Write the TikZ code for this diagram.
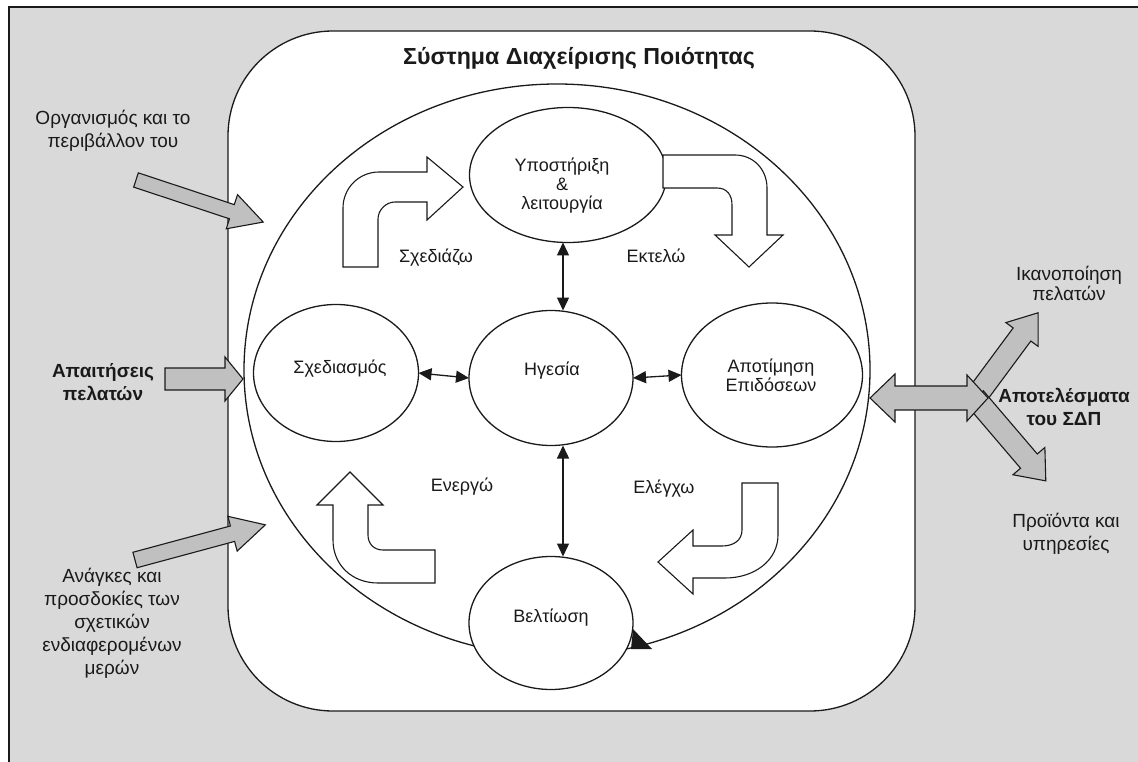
\documentclass[tikz,border=0pt]{standalone}
\usepackage{fontspec}
\setmainfont{Liberation Sans}
\usetikzlibrary{arrows.meta,shapes.geometric}

\definecolor{bg}{HTML}{D9D9D9}
\definecolor{arrowgray}{HTML}{C0C0C0}
\definecolor{ink}{HTML}{1A1A1A}

\tikzset{
  line/.style={draw=ink, line width=1.3pt},
  oval/.style={ellipse, line, fill=white, inner sep=0pt, outer sep=0pt},
  garrow/.style={draw=ink, line width=1.1pt, fill=arrowgray, line join=miter},
  warrow/.style={draw=ink, line width=1.1pt, fill=white, line join=miter},
  link/.style={draw=ink, line width=1.3pt, {Triangle[length=13pt,width=12pt]}-{Triangle[length=13pt,width=12pt]}},
  lbl/.style={text=ink, align=center, inner sep=0pt, font=\fontsize{19}{23}\selectfont},
  inlbl/.style={text=ink, align=center, inner sep=0pt, font=\fontsize{18}{19}\selectfont},
  boldlbl/.style={lbl, font=\fontsize{19}{23}\selectfont\bfseries},
}

% gray block arrow: tail point, angle, length, half shaft, half head, head length
\newcommand{\grayarrow}[6]{%
  \begin{scope}[shift={(#1)},rotate=#2]
    \draw[garrow] (0,-#4) -- ({#3-#6},-#4) -- ({#3-#6},-#5) -- (#3,0)
      -- ({#3-#6},#5) -- ({#3-#6},#4) -- (0,#4) -- cycle;
  \end{scope}}

\begin{document}
\begin{tikzpicture}[x=1pt,y=-1pt]
  \useasboundingbox (0,0) rectangle (1138,762);
  \clip (0,0) rectangle (1138,762);

  % outer frame and system box
  \draw[fill=bg, draw=ink, line width=1.3pt] (9,7) rectangle (1170,790);
  \draw[line, fill=white, rounded corners=105pt] (228,31) rectangle (915,711);

  % PDCA cycle
  \draw[line] (557,370) ellipse (313 and 286);
  \fill[ink] (633,629) -- (631,649) -- (652,649) -- cycle;

  % process ellipses
  \node[oval, minimum width=197pt, minimum height=135pt] (ypo) at (568,175) {};
  \node[oval, minimum width=165pt, minimum height=137pt] (sxe) at (336,373) {};
  \node[oval, minimum width=164pt, minimum height=135pt] (ige) at (551,378) {};
  \node[oval, minimum width=181pt, minimum height=144pt] (apo) at (772,375) {};
  \node[oval, minimum width=164pt, minimum height=133pt] (bel) at (551,623) {};

  \node[inlbl, anchor=base] (ypo-t) at (562,210) {Υποστήριξη\\\&\\λειτουργία};
  \node[inlbl, anchor=base] (sxe-t) at (340,373) {Σχεδιασμός};
  \node[inlbl, anchor=base] (ige-t) at (552,375) {Ηγεσία};
  \node[inlbl, anchor=base] (apo-t) at (771,391) {Αποτίμηση\\Επιδόσεων};
  \node[inlbl, anchor=base] (bel-t) at (551,622) {Βελτίωση};

  % links to leadership
  \coordinate (col) at (563,0);
  \draw[link] (sxe.east) -- (ige.west);
  \draw[link] (ige.east) -- (apo.west);
  \draw[link] (ypo.south -| col) -- (ige.north -| col);
  \draw[link] (ige.south -| col) -- (bel.north -| col);

  % hollow cycle arrows
  \draw[warrow] (343,267) -- (343,208) .. controls (343,188) and (359,172) .. (379,172)
    -- (427,172) -- (427,157) -- (463,187) -- (427,220) -- (427,202) -- (395,202)
    .. controls (386,202) and (378,210) .. (378,219) -- (378,267) -- cycle;
  \draw[warrow] (663,155) -- (735,155) .. controls (753,155) and (767,169) .. (767,188)
    -- (767,235) -- (783,235) -- (749,267) -- (715,235) -- (732,235) -- (732,205)
    .. controls (732,195) and (727,188) .. (717,188) -- (663,188) -- cycle;
  \draw[warrow] (742,483) -- (778,483) -- (778,535) .. controls (778,560) and (755,578) .. (725,578)
    -- (693,578) -- (693,594) -- (658,562) -- (693,530) -- (693,546) -- (722,546)
    .. controls (734,546) and (742,540) .. (742,530) -- cycle;
  \draw[warrow] (435,550) -- (383,550) .. controls (374,550) and (368,544) .. (368,535)
    -- (368,505) -- (383,505) -- (350,472) -- (317,505) -- (333,505) -- (333,540)
    .. controls (333,565) and (352,583) .. (378,583) -- (435,583) -- cycle;

  \node[inlbl, anchor=base] (plan-t) at (436,262) {Σχεδιάζω};
  \node[inlbl, anchor=base] (do-t) at (656,262) {Εκτελώ};
  \node[inlbl, anchor=base] (act-t) at (462,491) {Ενεργώ};
  \node[inlbl, anchor=base] (chk-t) at (664,493) {Ελέγχω};

  % inputs
  \grayarrow{136,180}{-18.3}{134}{7.5}{18}{33}
  \grayarrow{165,379}{0}{78}{11}{22}{18}
  \grayarrow{135,560}{15.1}{135}{8}{18}{34}

  % outputs
  \grayarrow{975,398}{53.5}{106}{11}{20}{27}
  \grayarrow{975,398}{-49.5}{109}{11}{21}{26}
  \draw[garrow] (870,398) -- (895,374) -- (895,386) -- (967,386) -- (967,375) -- (988,398)
    -- (967,421) -- (967,410) -- (895,410) -- (895,422) -- cycle;

  % titles and labels
  \node[boldlbl, anchor=base, font=\fontsize{23.2}{28}\selectfont\bfseries] (title) at (579,65) {Σύστημα Διαχείρισης Ποιότητας};
  \node[lbl, anchor=base] (org) at (113,148) {Οργανισμός και το\\περιβάλλον του};
  \node[boldlbl, anchor=base] (req) at (103,400) {Απαιτήσεις\\πελατών};
  \node[lbl, anchor=base] (needs) at (112,674) {Ανάγκες και\\προσδοκίες των\\σχετικών\\ενδιαφερομένων\\μερών};
  \node[lbl, anchor=base, font=\fontsize{19}{20}\selectfont] (sat) at (1069,300) {Ικανοποίηση\\πελατών};
  \node[boldlbl, anchor=base] (res) at (1064,425) {Αποτελέσματα\\του ΣΔΠ};
  \node[lbl, anchor=base] (prod) at (1066,550) {Προϊόντα και\\υπηρεσίες};
\end{tikzpicture}
\end{document}
